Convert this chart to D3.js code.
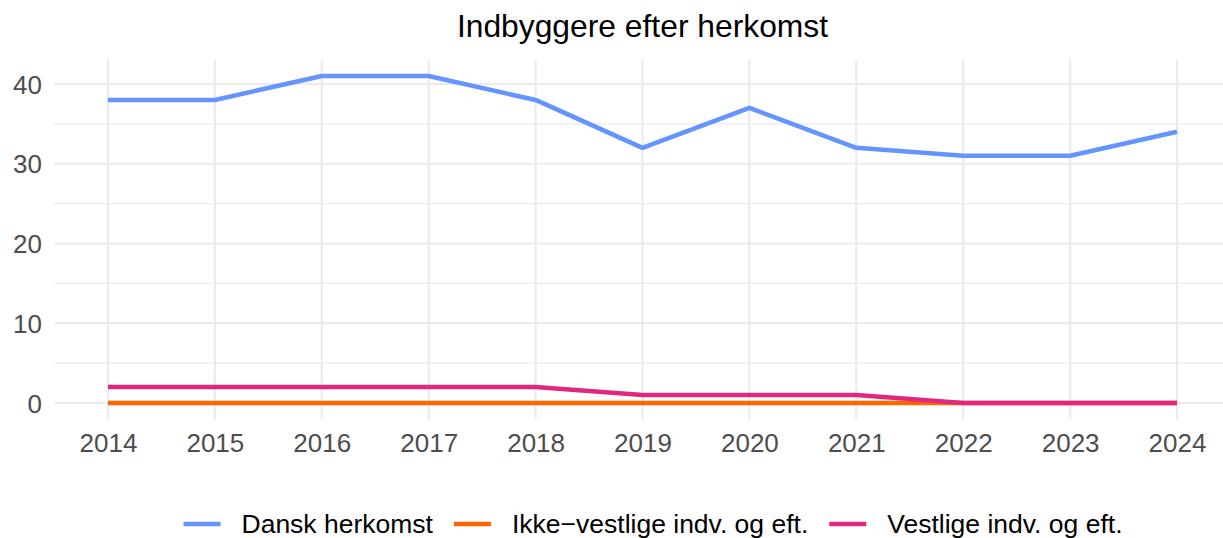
<!DOCTYPE html>
<html>
<head>
<meta charset="utf-8">
<script src="https://cdn.jsdelivr.net/npm/d3@7"></script>
<style>
  body { margin: 0; background: #fff; }
  svg { display: block; font-family: "Liberation Sans", Arial, sans-serif; }
</style>
</head>
<body>
<svg id="chart" width="1223" height="538"></svg>
<script>
const width = 1223;
const height = 538;

// data
const years = [2014, 2015, 2016, 2017, 2018, 2019, 2020, 2021, 2022, 2023, 2024];
const dansk = [38, 38, 41, 41, 38, 32, 37, 32, 31, 31, 34];
const ikkeVestlige = [0, 0, 0, 0, 0, 0, 0, 0, 0, 0, 0];
const vestlige = [2, 2, 2, 2, 2, 1, 1, 1, 0, 0, 0];
const seriesNames = ["Dansk herkomst", "Ikke\u2212vestlige indv. og eft.", "Vestlige indv. og eft."];
const seriesColors = ["#6495FF", "#FF6600", "#E0287F"];
const yTicks = [0, 10, 20, 30, 40];
const yMinor = [5, 15, 25, 35];

const series = [dansk, ikkeVestlige, vestlige];

const panel = {left: 54.5, right: 1230.5, top: 59.7, bottom: 419.3};

const svg = d3.select("#chart");

// scales, with the same 5% padding ggplot uses
let x = d3.scaleLinear()
    .domain([2013.5, 2024.5])
    .range([panel.left, panel.right]);

let y = d3.scaleLinear()
    .domain([-2.05, 43.05])
    .range([panel.bottom, panel.top]);

// grid
let grid = svg.append("g").attr("class", "grid");

grid.selectAll(".minor")
    .data(yMinor)
    .enter().append("line")
    .attr("x1", panel.left).attr("x2", panel.right)
    .attr("y1", d => y(d)).attr("y2", d => y(d))
    .attr("stroke", "#EBEBEB").attr("stroke-width", 1.2);

grid.selectAll(".major-y")
    .data(yTicks)
    .enter().append("line")
    .attr("x1", panel.left).attr("x2", panel.right)
    .attr("y1", d => y(d)).attr("y2", d => y(d))
    .attr("stroke", "#EBEBEB").attr("stroke-width", 2.2);

grid.selectAll(".major-x")
    .data(years)
    .enter().append("line")
    .attr("x1", d => x(d)).attr("x2", d => x(d))
    .attr("y1", panel.top).attr("y2", panel.bottom)
    .attr("stroke", "#EBEBEB").attr("stroke-width", 2.2);

// axes (text only, like theme_minimal)
let xAxis = d3.axisBottom(x).tickValues(years).tickFormat(d3.format("d")).tickSize(0).tickPadding(0);
let yAxis = d3.axisLeft(y).tickValues(yTicks).tickSize(0).tickPadding(0);

let xAxisSvg = svg.append("g")
    .attr("transform", "translate(0," + panel.bottom + ")")
    .call(xAxis);
xAxisSvg.select(".domain").remove();
xAxisSvg.selectAll("text")
    .attr("y", 33)
    .attr("dy", null)
    .attr("fill", "#4D4D4D")
    .style("font-size", "26px")
    .style("font-family", "Liberation Sans, Arial, sans-serif");

let yAxisSvg = svg.append("g")
    .attr("transform", "translate(" + 42 + ",0)")
    .call(yAxis);
yAxisSvg.select(".domain").remove();
yAxisSvg.selectAll("text")
    .attr("x", 0)
    .attr("dy", "0.35em")
    .attr("fill", "#4D4D4D")
    .style("font-size", "26px")
    .style("font-family", "Liberation Sans, Arial, sans-serif");

// lines
let line = d3.line()
    .x((d, i) => x(years[i]))
    .y(d => y(d));

svg.append("g").selectAll("path")
    .data(series)
    .enter().append("path")
    .attr("d", d => line(d))
    .attr("fill", "none")
    .attr("stroke", (d, i) => seriesColors[i])
    .attr("stroke-width", 4.6)
    .attr("stroke-linejoin", "round");

// title
svg.append("text")
    .attr("x", (panel.left + panel.right) / 2)
    .attr("y", 37)
    .attr("text-anchor", "middle")
    .attr("fill", "#000")
    .style("font-size", "31.8px")
    .text("Indbyggere efter herkomst");

// legend
const keyW = 37, keyGap = 21, itemGap = 21, legendCenter = 653, legendY = 524;
let legend = svg.append("g");
let items = legend.selectAll("g")
    .data(seriesNames)
    .enter().append("g");

items.append("line")
    .attr("x1", 0).attr("x2", keyW)
    .attr("y1", 0).attr("y2", 0)
    .attr("stroke", (d, i) => seriesColors[i])
    .attr("stroke-width", 4.6);

items.append("text")
    .attr("x", keyW + keyGap)
    .attr("y", 8.5)
    .attr("fill", "#000")
    .style("font-size", "26.5px")
    .text(d => d);

let widths = [];
items.each(function () {
    widths.push(keyW + keyGap + d3.select(this).select("text").node().getComputedTextLength());
});
let total = d3.sum(widths) + itemGap * (widths.length - 1);
let cx = legendCenter - total / 2;
items.attr("transform", (d, i) => {
    let t = "translate(" + cx + "," + legendY + ")";
    cx += widths[i] + itemGap;
    return t;
});
</script>
</body>
</html>
